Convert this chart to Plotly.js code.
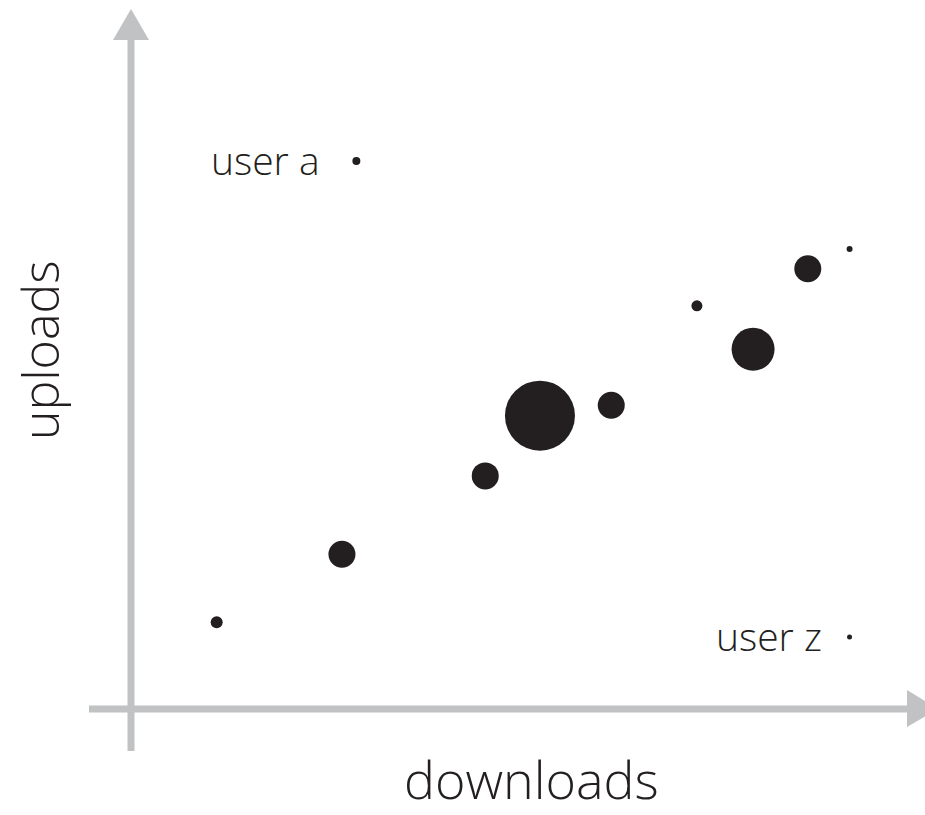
<!DOCTYPE html>
<html>
<head>
<meta charset="utf-8">
<script src="https://cdn.plot.ly/plotly-3.0.1.min.js"></script>
<style>
  html, body { margin: 0; padding: 0; background: #ffffff; }
  #chart { width: 925px; height: 815px; }
</style>
</head>
<body>
<div id="chart"></div>
<script>
// ---- data ----
const users     = ["user a", "", "", "", "", "", "", "", "", "", "user z"];
const downloads = [31.3, 99.8, 94.0, 78.6, 86.4, 56.8, 66.7, 49.2, 29.3, 11.9, 99.8];
const uploads   = [78.3, 65.7, 62.9, 57.6, 51.4, 41.9, 43.4, 33.3, 22.1, 12.4, 10.3];
const activity  = [8, 6, 27, 11, 43, 70, 27, 27, 27, 12, 5];
const labelShift = [-34, 0, 0, 0, 0, 0, 0, 0, 0, 0, -26];

// ---- layout helpers (pixel scale of the axes) ----
const W = 925, H = 815;
const ox = 131, oy = 709;      // axis origin in pixels
const sx = 7.2, sy = 7.0;      // pixels per unit
const px2x = p => (p - ox) / sx;
const py2y = p => (oy - p) / sy;

const axisColor = "#c1c2c4";
const inkColor = "#231f20";
const fontFam = "'Open Sans', 'Segoe UI', Lato, sans-serif";

const trace = {
  type: "scatter",
  mode: "markers",
  x: downloads,
  y: uploads,
  opacity: 1,
  marker: { size: activity, sizemode: "diameter", color: inkColor, opacity: 1, line: { width: 0 } },
  hoverinfo: "skip"
};

const shapes = [
  // vertical axis shaft
  { type: "line", xref: "x", yref: "y", x0: 0, x1: 0, y0: py2y(751), y1: py2y(38),
    line: { color: axisColor, width: 7 } },
  // horizontal axis shaft
  { type: "line", xref: "x", yref: "y", x0: px2x(89), x1: px2x(909), y0: 0, y1: 0,
    line: { color: axisColor, width: 7 } },
  // up arrow head
  { type: "path", xref: "x", yref: "y",
    path: `M ${px2x(113)} ${py2y(40)} L ${px2x(131)} ${py2y(9)} L ${px2x(149)} ${py2y(40)} Z`,
    fillcolor: axisColor, line: { width: 0 } },
  // right arrow head
  { type: "path", xref: "x", yref: "y",
    path: `M ${px2x(907)} ${py2y(690)} L ${px2x(938)} ${py2y(709)} L ${px2x(907)} ${py2y(727)} Z`,
    fillcolor: axisColor, line: { width: 0 } }
];

const annotations = [];
users.forEach((u, i) => {
  if (!u) return;
  annotations.push({
    x: downloads[i], y: uploads[i], xref: "x", yref: "y",
    text: u, showarrow: false, xanchor: "right", yanchor: "middle",
    xshift: labelShift[i], yshift: 1,
    font: { family: fontFam, size: 39, color: inkColor, weight: 300 }
  });
});
annotations.push({
  x: px2x(531), y: py2y(815), xref: "x", yref: "y",
  text: "downloads", showarrow: false, xanchor: "center", yanchor: "bottom",
  borderpad: 0,
  font: { family: fontFam, size: 52, color: inkColor, weight: 300 }
});
annotations.push({
  x: px2x(40), y: py2y(351), xref: "x", yref: "y",
  text: "uploads", showarrow: false, textangle: -90, xanchor: "center", yanchor: "middle",
  font: { family: fontFam, size: 50, color: inkColor, weight: 300 }
});

const layout = {
  width: W, height: H,
  margin: { l: 0, r: 0, t: 0, b: 0, pad: 0 },
  paper_bgcolor: "#ffffff",
  plot_bgcolor: "#ffffff",
  showlegend: false,
  hovermode: false,
  xaxis: { range: [px2x(0), px2x(W)], visible: false, fixedrange: true },
  yaxis: { range: [py2y(H), py2y(0)], visible: false, fixedrange: true },
  shapes: shapes,
  annotations: annotations
};

Plotly.newPlot("chart", [trace], layout, { displayModeBar: false, staticPlot: true });
</script>
</body>
</html>
